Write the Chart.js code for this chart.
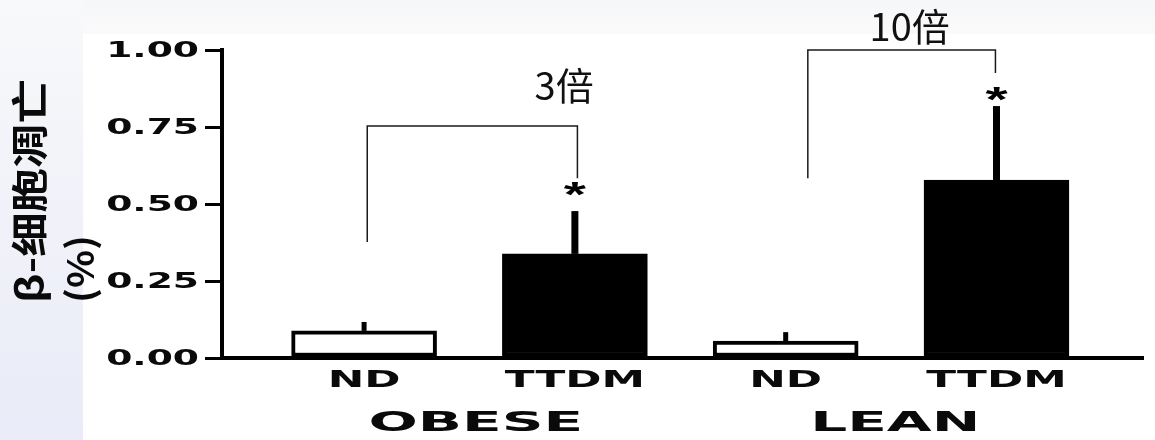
<!DOCTYPE html>
<html><head><meta charset="utf-8">
<script src="https://cdn.jsdelivr.net/npm/chart.js@4"></script>
<style>
html,body{margin:0;padding:0;width:1155px;height:440px;overflow:hidden;background:#fff;}
#bgLeft{position:absolute;left:0;top:0;width:83px;height:440px;background:linear-gradient(#f8f9fa 0%,#f2f3f9 40%,#e9ebf8 100%);}
#bgTop{position:absolute;left:83px;top:0;width:1072px;height:34px;background:linear-gradient(#f6f7f8,#fafafb);}
#wrap{position:absolute;left:0;top:0;width:1155px;height:440px;}
</style></head>
<body>
<div id="bgLeft"></div><div id="bgTop"></div>
<div id="wrap"><canvas id="c" width="1155" height="440"></canvas></div>
<script>
// ---- data ----
const categories = ['ND', 'TTDM', 'ND', 'TTDM'];
const groups = ['OBESE', 'LEAN'];
const meanValues = [0.088, 0.338, 0.055, 0.578];
const errorTops = [0.117, 0.477, 0.084, 0.818];
const yTicks = [0, 0.25, 0.5, 0.75, 1.0];
const yTickLabels = ['0.00', '0.25', '0.50', '0.75', '1.00'];
const yTitle = ['β-细胞凋亡', '(%)'];
// annotation (bracket) data, in axis units
const bracketStart = [0.015, 2.105];
const bracketEnd = [1.012, 2.995];
const bracketTop = [0.753, 1.0];
const bracketStartBottom = [0.377, 0.584];
const bracketEndBottom = [0.584, 0.925];
const foldLabels = ['3倍', '10倍'];
const foldLabelX = [0.949, 2.588];
const foldLabelY = [0.886, 1.075];
const starX = [1, 3];
const starY = [0.562, 0.870];
const groupCenter = [0.53, 2.52];

// ---- styles ----
const barFill = ['#ffffff', '#000000', '#ffffff', '#000000'];
const errWidth = [5, 7, 5, 7];
const boldFont = '"DejaVu Sans", "Liberation Sans", Arial, sans-serif';

function stretched(ctx, text, x, y, sx, align, font) {
  ctx.save();
  ctx.translate(x, y);
  ctx.scale(sx, 1);
  ctx.font = font;
  ctx.textAlign = align;
  ctx.textBaseline = 'middle';
  ctx.fillText(text, 0, 0);
  ctx.restore();
}

const annot = {
  id: 'annot',
  afterDraw(chart) {
    const ctx = chart.ctx, xs = chart.scales.x, ys = chart.scales.y;
    const X = v => xs.getPixelForValue(v), Y = v => ys.getPixelForValue(v);
    ctx.save();
    ctx.fillStyle = '#000';
    ctx.strokeStyle = '#000';
    // error bars
    meanValues.forEach((m, i) => {
      ctx.lineWidth = errWidth[i];
      ctx.beginPath();
      ctx.moveTo(X(i), Y(m));
      ctx.lineTo(X(i), Y(errorTops[i]));
      ctx.stroke();
    });
    // y tick labels
    ctx.fillStyle = '#0a0a0a';
    yTicks.forEach((v, i) => {
      stretched(ctx, yTickLabels[i], ys.right - 23, Y(v) + 1, 1.71, 'right', 'bold 22px ' + boldFont);
    });
    // category labels
    categories.forEach((c, i) => {
      stretched(ctx, c, X(i), ys.bottom + 23, 1.9, 'center', 'bold 23px ' + boldFont);
    });
    groups.forEach((g, i) => {
      stretched(ctx, g, X(groupCenter[i]), ys.bottom + 66, 2.15, 'center', 'bold 27px ' + boldFont);
    });
    // y title (rotated)
    [[30, 1.2], [80, 1.07]].forEach((p, k) => {
      ctx.save();
      ctx.font = 'bold 37px "Noto Sans CJK SC", sans-serif';
      ctx.textAlign = 'left';
      ctx.textBaseline = 'middle';
      ctx.translate(p[0], 303); ctx.rotate(-Math.PI / 2); ctx.scale(p[1], 1);
      ctx.fillText(yTitle[k], 0, 0);
      ctx.restore();
    });
    // brackets
    ctx.lineWidth = 1.5;
    ctx.strokeStyle = '#1a1a1a';
    bracketStart.forEach((s, i) => {
      ctx.beginPath();
      ctx.moveTo(X(s), Y(bracketStartBottom[i]));
      ctx.lineTo(X(s), Y(bracketTop[i]));
      ctx.lineTo(X(bracketEnd[i]), Y(bracketTop[i]));
      ctx.lineTo(X(bracketEnd[i]), Y(bracketEndBottom[i]));
      ctx.stroke();
    });
    // fold labels
    ctx.font = '38px "Noto Sans CJK SC", sans-serif';
    ctx.textAlign = 'center';
    ctx.textBaseline = 'middle';
    ctx.fillStyle = '#111';
    foldLabels.forEach((t, i) => ctx.fillText(t, X(foldLabelX[i]), Y(foldLabelY[i])));
    // stars
    ctx.fillStyle = '#000';
    starX.forEach((s, i) => {
      ctx.save();
      ctx.translate(X(s), Y(starY[i]) + 21);
      ctx.scale(1.5, 0.9);
      ctx.font = 'bold 38px "Liberation Sans", Arial, sans-serif';
      ctx.textAlign = 'center';
      ctx.textBaseline = 'alphabetic';
      ctx.fillText('*', 0, 0);
      ctx.restore();
    });
    ctx.restore();
  }
};

new Chart(document.getElementById('c'), {
  type: 'bar',
  data: {
    datasets: [{
      data: categories.map((c, i) => ({ x: i, y: meanValues[i] })),
      backgroundColor: barFill,
      borderColor: '#000',
      borderWidth: 4,
      borderSkipped: false,
      barThickness: 145
    }]
  },
  options: {
    responsive: false,
    animation: false,
    devicePixelRatio: 1,
    layout: { padding: { left: 0, right: 12, top: 50, bottom: 0 } },
    plugins: { legend: { display: false }, tooltip: { enabled: false } },
    scales: {
      x: {
        type: 'linear', min: -0.674, max: 3.695, offset: false,
        grid: { display: false, drawTicks: false },
        border: { display: true, color: '#000', width: 4 },
        ticks: { display: false },
        afterFit(s) { s.height = 82; }
      },
      y: {
        min: 0, max: 1,
        afterBuildTicks(s) { s.ticks = yTicks.map(v => ({ value: v })); },
        grid: { drawOnChartArea: false, drawTicks: true, tickLength: 17, lineWidth: 3, color: '#000' },
        border: { display: true, color: '#000', width: 4 },
        ticks: { display: false },
        afterFit(s) { s.width = 222; }
      }
    }
  },
  plugins: [annot]
});
</script>
</body></html>
